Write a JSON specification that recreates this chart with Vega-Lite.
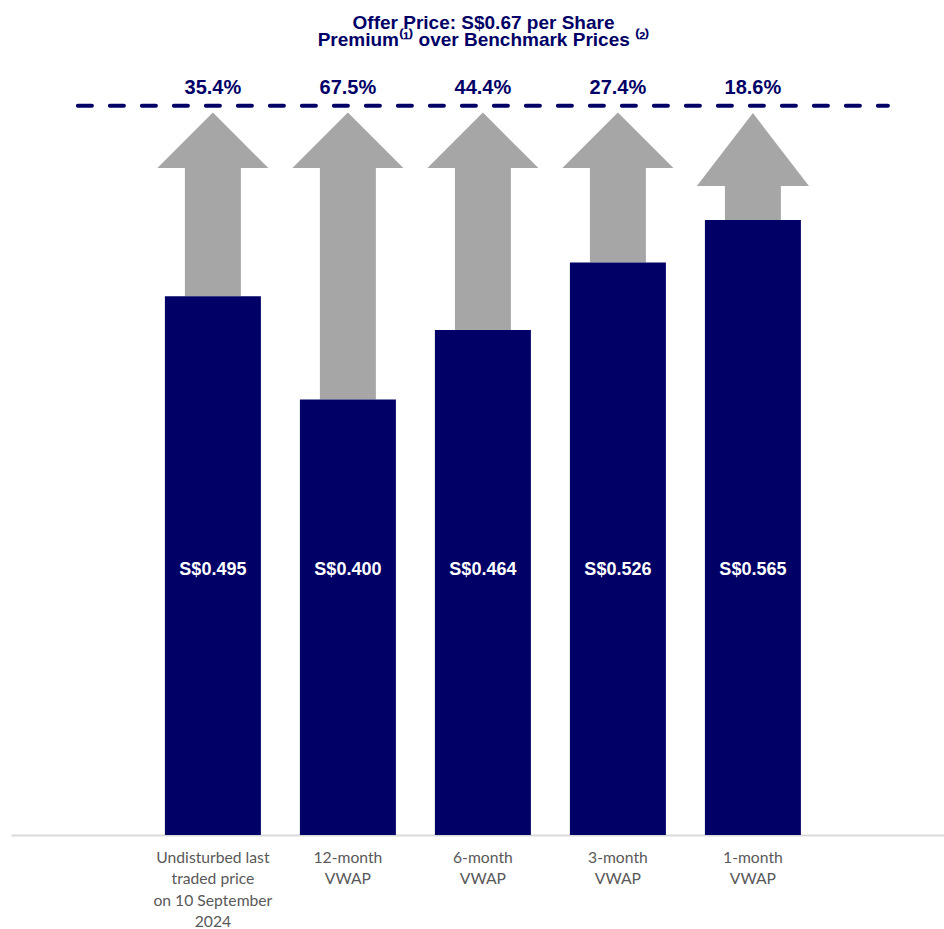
{
  "$schema": "https://vega.github.io/schema/vega-lite/v6.json",
  "autosize": "none",
  "width": 933,
  "height": 762,
  "padding": {"left": 11, "top": 73, "right": 0, "bottom": 94},
  "background": "white",
  "config": {"view": {"stroke": null}, "font": "Liberation Sans"},
  "title": {
    "text": ["Offer Price: S$0.67 per Share", "Premium⁽¹⁾ over Benchmark Prices ⁽²⁾"],
    "color": "#000066",
    "font": "Liberation Sans",
    "fontSize": 19,
    "fontWeight": "bold",
    "anchor": "middle",
    "dx": 6,
    "baseline": "alphabetic",
    "offset": 8,
    "lineHeight": 17
  },
  "data": {
    "values": [
      {"category": "Undisturbed last traded price on 10 September 2024", "price": 0.495, "premium": 0.354},
      {"category": "12-month VWAP", "price": 0.400, "premium": 0.675},
      {"category": "6-month VWAP", "price": 0.464, "premium": 0.444},
      {"category": "3-month VWAP", "price": 0.526, "premium": 0.274},
      {"category": "1-month VWAP", "price": 0.565, "premium": 0.186}
    ]
  },
  "transform": [{"calculate": "'S$' + format(datum.price, '.3f')", "as": "priceLabel"}],
  "encoding": {
    "x": {
      "field": "category",
      "type": "nominal",
      "sort": null,
      "scale": {
        "domain": ["_L", "Undisturbed last traded price on 10 September 2024", "12-month VWAP", "6-month VWAP", "3-month VWAP", "1-month VWAP", "_R"],
        "paddingInner": 0.289,
        "paddingOuter": 0.1,
        "align": 0.7
      },
      "axis": {
        "title": null,
        "labelAngle": 0,
        "ticks": false,
        "domainColor": "#d9d9d9",
        "domainWidth": 2,
        "labelFont": "Lato",
        "labelFontSize": 15.7,
        "labelColor": "#595959",
        "labelPadding": 15,
        "labelLineHeight": 21.5,
        "labelBaseline": "top",
        "labelLimit": 400,
        "labelOverlap": false,
        "labelBound": false,
        "labelExpr": "datum.value == 'Undisturbed last traded price on 10 September 2024' ? ['Undisturbed last', 'traded price', 'on 10 September', '2024'] : (indexof(datum.value, '_') == 0 ? '' : split(datum.value, ' '))"
      }
    }
  },
  "layer": [
    {
      "mark": {"type": "bar", "color": "#a6a6a6", "width": {"band": 0.583}},
      "encoding": {
        "y": {"field": "price", "type": "quantitative", "scale": {"domain": [0, 0.7], "nice": false}, "axis": null},
        "y2": {"datum": 0.62}
      }
    },
    {
      "mark": {"type": "point", "filled": true, "color": "#a6a6a6", "opacity": 1, "size": 12321, "strokeWidth": 0},
      "encoding": {
        "y": {"datum": 0.6127, "type": "quantitative"},
        "shape": {
          "condition": {"test": "datum.category === '1-month VWAP'", "value": "M-1.01,0.324L0,-0.99L1.01,0.324Z"},
          "value": "M-1,0L0,-1L1,0Z"
        }
      }
    },
    {
      "mark": {"type": "bar", "color": "#000066"},
      "encoding": {"y": {"field": "price", "type": "quantitative"}}
    },
    {
      "mark": {"type": "text", "color": "white", "fontSize": 18, "fontWeight": "bold", "baseline": "middle", "font": "Liberation Sans"},
      "encoding": {
        "y": {"datum": 0.243, "type": "quantitative"},
        "text": {"field": "priceLabel"}
      }
    },
    {
      "data": {"values": [{"offer": 0.67}]},
      "mark": {"type": "rule", "color": "#000066", "strokeWidth": 4, "strokeDash": [14, 18], "strokeCap": "round"},
      "encoding": {
        "x": {"datum": "_L", "bandPosition": 0.5},
        "x2": {"datum": "_R"},
        "y": {"field": "offer", "type": "quantitative"}
      }
    },
    {
      "mark": {"type": "text", "color": "#000066", "fontSize": 20, "fontWeight": "bold", "baseline": "alphabetic", "dy": -12, "font": "Liberation Sans"},
      "encoding": {
        "y": {"datum": 0.67, "type": "quantitative"},
        "text": {"field": "premium", "type": "quantitative", "format": ".1%"}
      }
    }
  ]
}
